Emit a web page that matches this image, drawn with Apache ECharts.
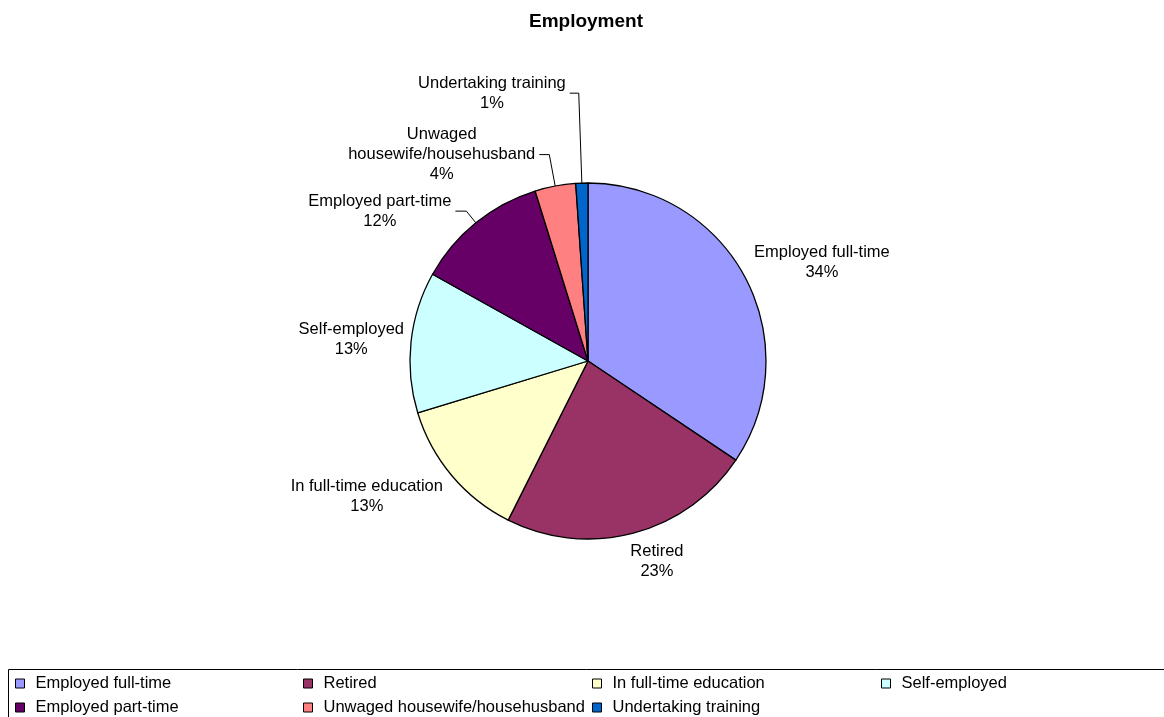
<!DOCTYPE html>
<html>
<head>
<meta charset="utf-8">
<title>Employment</title>
<script src="https://cdn.jsdelivr.net/npm/echarts@6/dist/echarts.min.js"></script>
<style>
html,body{margin:0;padding:0;background:#fff;}
#chart{width:1164px;height:717px;}
</style>
</head>
<body>
<div id="chart"></div>
<script>
// ---- data ----
var categories = ['Employed full-time','Retired','In full-time education','Self-employed','Employed part-time','Unwaged housewife/househusband','Undertaking training'];
var shares = [34.4, 23.0, 12.9, 12.8, 12.1, 3.7, 1.1];
var titleText = 'Employment';

// ---- styling ----
var colors = ['#9999FF','#993366','#FFFFCC','#CCFFFF','#660066','#FF8080','#0066CC'];
var FONT = '"Liberation Sans", Arial, sans-serif';
var FS = 16.5;
// label line (shown, length, length2) per slice
var lineCfg = [[false,0,0],[false,0,0],[false,0,0],[false,0,0],[true,15,11],[true,32,10],[true,90,9]];
// label nudges for labels without leader lines
var nudge = [[5,-15],[-7,28],[-5,21],[-3,-3],[0,0],[0,0],[0,0]];
// legend grid cells: [left, top]
var legendCells = [[15,675],[303,675],[592,675],[881,675],[15,699],[303,699],[592,699]];

function wrapName(n){
  if (n.length > 25) { var i = n.indexOf(' '); return [n.slice(0,i), n.slice(i+1)]; }
  return [n];
}

var chart = echarts.init(document.getElementById('chart'), null, {renderer:'canvas'});

var seriesData = categories.map(function(c,i){
  return {
    name: c,
    value: shares[i],
    itemStyle: {color: colors[i]},
    labelLine: {show: lineCfg[i][0], length: lineCfg[i][1], length2: lineCfg[i][2]}
  };
});

var legends = categories.map(function(c,i){
  return {
    data: [c],
    left: legendCells[i][0],
    top: legendCells[i][1],
    orient: 'horizontal',
    icon: 'rect',
    itemWidth: 9,
    itemHeight: 9,
    selectedMode: false,
    padding: 0,
    itemStyle: {borderColor: '#000', borderWidth: 1},
    textStyle: {fontFamily: FONT, fontSize: FS, color: '#000', padding: [0,0,0,6]}
  };
});

var option = {
  animation: false,
  backgroundColor: '#fff',
  color: colors,
  title: {
    text: titleText,
    left: 529,
    top: 12,
    padding: 0,
    textStyle: {fontFamily: FONT, fontSize: 19, fontWeight: 'bold', color: '#000'}
  },
  legend: legends,
  graphic: [{
    type: 'rect',
    shape: {x: 8.5, y: 669.5, width: 1200, height: 100},
    style: {fill: 'none', stroke: '#000', lineWidth: 1},
    silent: true,
    z: -1
  }],
  series: [{
    type: 'pie',
    center: [588, 361],
    radius: 178,
    startAngle: 90,
    clockwise: true,
    percentPrecision: 0,
    avoidLabelOverlap: false,
    emphasis: {disabled: true},
    itemStyle: {borderColor: '#000', borderWidth: 1.3},
    label: {
      show: true,
      position: 'outside',
      distanceToLabelLine: 4,
      fontFamily: FONT,
      fontSize: FS,
      color: '#000',
      formatter: function(p){
        var lines = wrapName(p.name).concat([p.percent + '%']);
        return lines.map(function(l){ return '{a|' + l + '}'; }).join('\n');
      },
      rich: {a: {fontFamily: FONT, fontSize: FS, lineHeight: 20, color: '#000', align: 'center'}}
    },
    labelLine: {lineStyle: {color: '#000', width: 1}, smooth: false},
    labelLayout: function(p){
      var o = nudge[p.dataIndex];
      return {dx: o[0], dy: o[1]};
    },
    data: seriesData
  }]
};
chart.setOption(option);
</script>
</body>
</html>
